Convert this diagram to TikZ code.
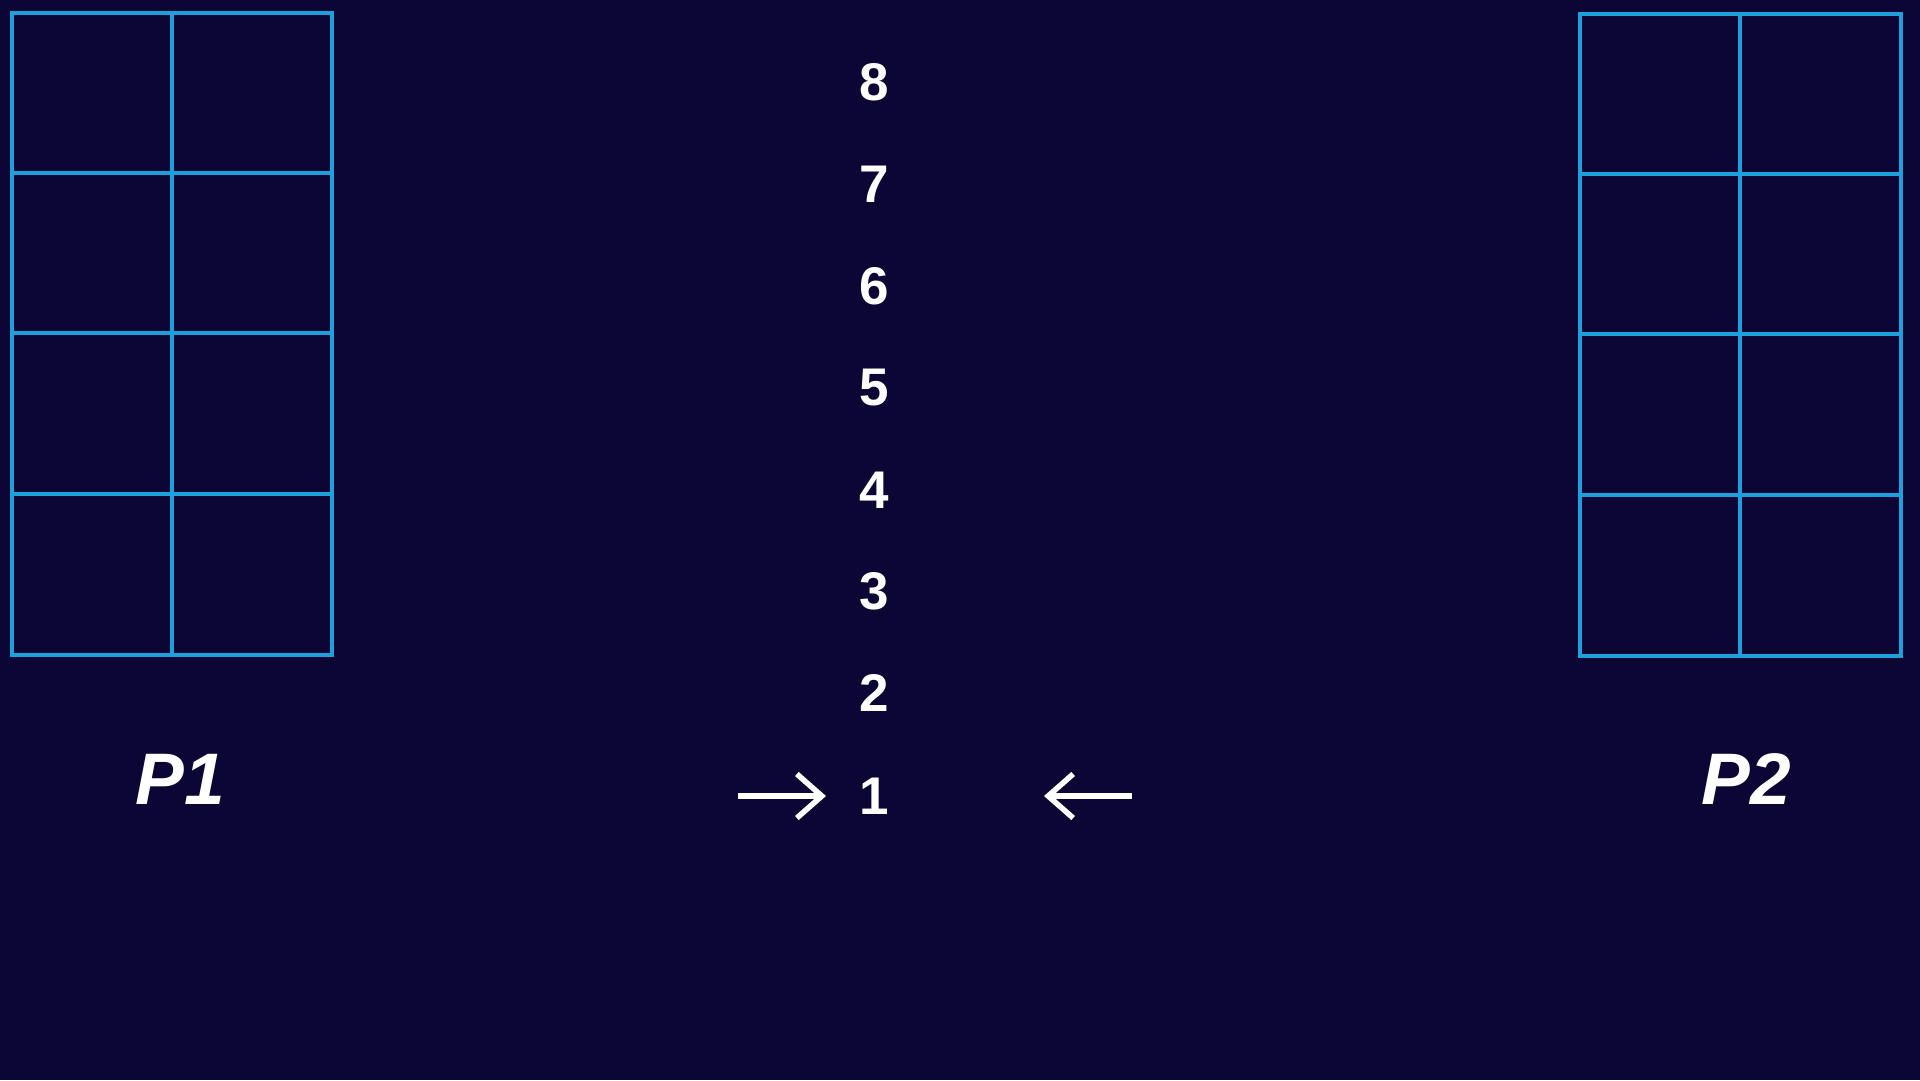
\documentclass[tikz,border=0pt]{standalone}
\usepackage{fontspec}
\setmainfont{Liberation Sans}
\usetikzlibrary{arrows.meta}
\definecolor{bg}{RGB}{12,6,53}
\definecolor{gridc}{RGB}{30,160,220}
\begin{document}
\begin{tikzpicture}[x=1pt,y=-1pt,
  gridline/.style={draw=gridc,line width=4.5pt},
  num/.style={text=white,font=\fontsize{53}{53}\selectfont\bfseries,inner sep=0pt,anchor=center},
  plabel/.style={text=white,font=\fontsize{73}{73}\selectfont\bfseries\itshape,inner sep=0pt},
  arr/.style={draw=white,line width=5.5pt,-{Straight Barb[length=25pt,width=44pt,line width=5.5pt]}}]
\fill[bg] (0,0) rectangle (1920,1080);
\useasboundingbox (0,0) rectangle (1920,1080);
% left grid
\draw[gridline] (12,13) rectangle (332,655);
\draw[gridline] (172,13) -- (172,655);
\foreach \y in {173,333,494} \draw[gridline] (12,\y) -- (332,\y);
% right grid
\draw[gridline] (1580,14) rectangle (1901,656);
\draw[gridline] (1740,14) -- (1740,656);
\foreach \y in {174,334,495} \draw[gridline] (1580,\y) -- (1901,\y);
% numbers
\node[num] (n8) at (874,82) {8};
\node[num] (n7) at (874,184) {7};
\node[num] (n6) at (874,286) {6};
\node[num] (n5) at (874,388) {5};
\node[num] (n4) at (874,490) {4};
\node[num] (n3) at (874,591) {3};
\node[num] (n2) at (874,693) {2};
\node[num] (n1) at (874,796) {1};
% arrows
\coordinate (la) at (738,796);
\coordinate (lb) at (826,796);
\coordinate (ra) at (1132,796);
\coordinate (rb) at (1044,796);
\draw[arr] (la) -- (lb);
\draw[arr] (ra) -- (rb);
% labels
\node[plabel] (p1) at (180,779) {P1};
\node[plabel] (p2) at (1746,779) {P2};
\end{tikzpicture}
\end{document}
